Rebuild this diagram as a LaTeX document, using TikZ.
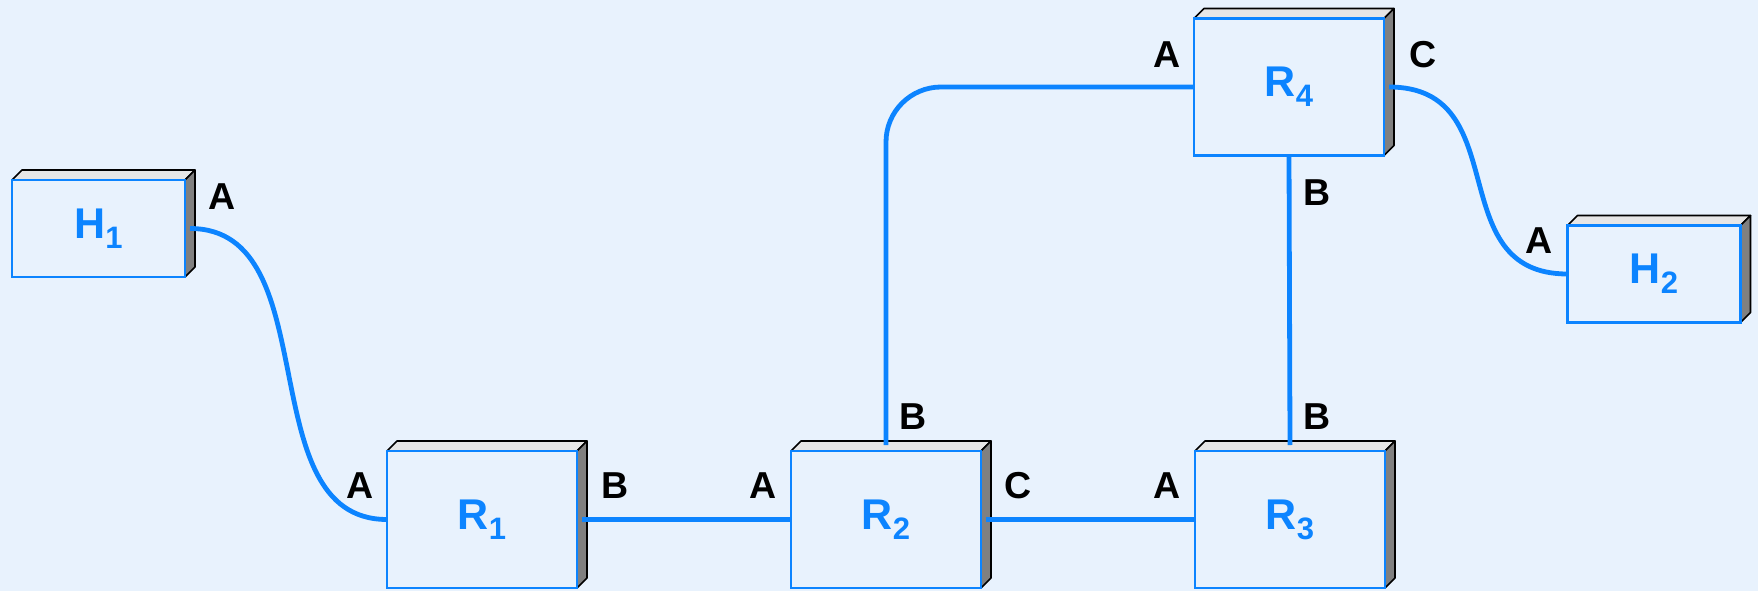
\documentclass[tikz,border=0pt]{standalone}
\usepackage{fontspec}
\setmainfont{Liberation Sans}
\usetikzlibrary{backgrounds}
\definecolor{bgc}{RGB}{232,242,253}
\definecolor{lineblue}{RGB}{12,132,255}
\definecolor{topgrey}{RGB}{230,230,230}
\definecolor{sidegrey}{RGB}{128,128,128}
\newcommand\boxlabel[2]{\fontsize{43}{43}\selectfont\bfseries #1\raisebox{-10pt}{\fontsize{31}{31}\selectfont #2}}
\newcommand\boxfaces[1]{%
  \begin{scope}[on background layer]
    \filldraw[face, fill=topgrey] (#1.north west) -- ++(10,-10) -- ([shift={(10,-10)}]#1.north east) -- (#1.north east) -- cycle;
    \filldraw[face, fill=sidegrey] (#1.north east) -- ++(10,-10) -- ([shift={(10,-10)}]#1.south east) -- (#1.south east) -- cycle;
  \end{scope}}
\tikzset{
  frontface/.style={draw=lineblue, line width=2.2pt, fill=bgc, inner sep=0pt, outer sep=0pt, text=lineblue},
  rbox/.style={frontface, minimum width=190pt, minimum height=137pt},
  hbox/.style={frontface, minimum width=173pt, minimum height=97pt},
  face/.style={draw=black, line width=1.6pt, line join=round},
  link/.style={draw=lineblue, line width=4.8pt},
  port/.style={text=black, inner sep=0pt, font=\fontsize{37.5}{37.5}\selectfont\bfseries},
}
\begin{document}
\begin{tikzpicture}[x=1pt, y=-1pt]
  \begin{scope}[on background layer]
    \fill[bgc] (0,0) rectangle (1758,591);
  \end{scope}
  \useasboundingbox (0,0) rectangle (1758,591);

  % boxes
  \node[hbox] (H1) at (98.5,228.5) {\boxlabel{H}{1}};
  \node[hbox] (H2) at (1654,274) {\boxlabel{H}{2}};
  \node[rbox] (R1) at (482,519.5) {\boxlabel{R}{1}};
  \node[rbox] (R2) at (886,519.5) {\boxlabel{R}{2}};
  \node[rbox] (R3) at (1290,519.5) {\boxlabel{R}{3}};
  \node[rbox] (R4) at (1289,87) {\boxlabel{R}{4}};
  \boxfaces{H1}\boxfaces{H2}\boxfaces{R1}\boxfaces{R2}\boxfaces{R3}\boxfaces{R4}

  % links
  \draw[link] ([xshift=5pt]H1.east) .. controls +(139,0) and +(-139,0) .. (R1.west);
  \draw[link] ([xshift=5pt]R4.east) .. controls +(128,0) and +(-128,0) .. (H2.west);
  \draw[link] ([xshift=5pt]R1.east) -- (R2.west);
  \draw[link] ([xshift=5pt]R2.east) -- (R3.west);
  \draw[link, rounded corners=55pt] ([yshift=6pt]R2.north) |- (R4.west);
  \draw[link] (R4.south) -- ([yshift=6pt]R3.north);

  % port labels
  \node[port] (H1A) at (222,197) {A};
  \node[port] (R1A) at (360,486) {A};
  \node[port] (R1B) at (615,486) {B};
  \node[port] (R2A) at (763,486) {A};
  \node[port] (R2B) at (913,417) {B};
  \node[port] (R2C) at (1018,486) {C};
  \node[port] (R3A) at (1167,486) {A};
  \node[port] (R3B) at (1317,417) {B};
  \node[port] (R4A) at (1167,55) {A};
  \node[port] (R4B) at (1317,193) {B};
  \node[port] (R4C) at (1423,55) {C};
  \node[port] (H2A) at (1539,241) {A};
\end{tikzpicture}
\end{document}
